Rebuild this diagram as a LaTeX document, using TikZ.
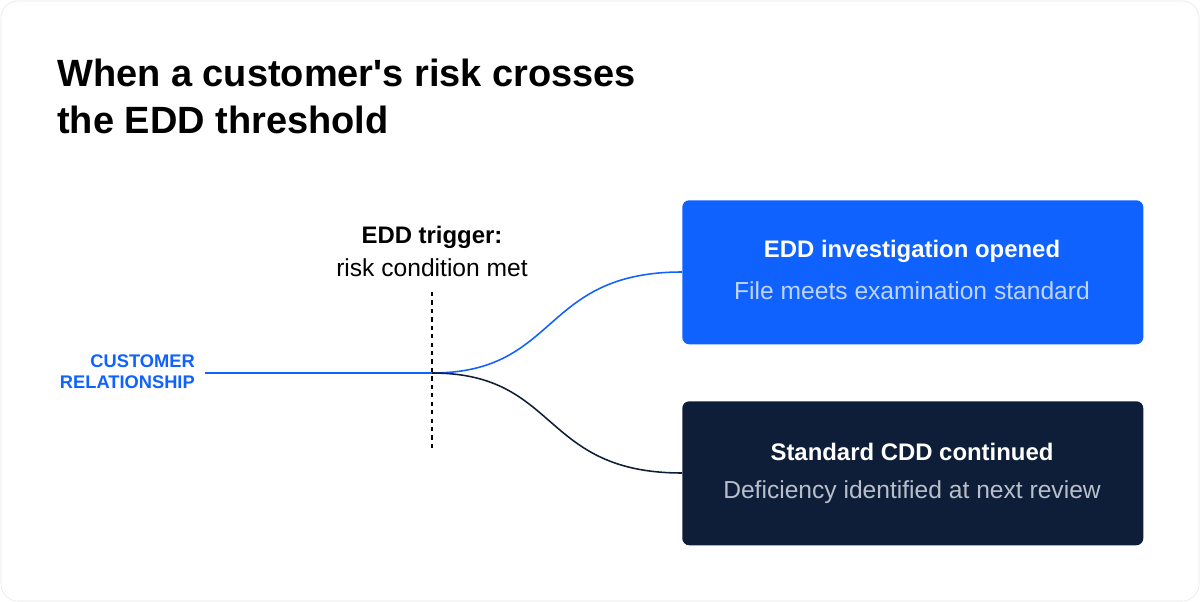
\documentclass[tikz,border=0pt]{standalone}
\usepackage{fontspec}
\setmainfont{Liberation Sans}
\usetikzlibrary{positioning}
\definecolor{eddblue}{HTML}{0F62FE}
\definecolor{eddnavy}{HTML}{0F1E38}
\definecolor{subblue}{HTML}{BFD4FF}
\definecolor{subgray}{HTML}{B8BFCC}
\definecolor{framegray}{HTML}{E6E6E6}
\tikzset{
  outcome/.style={rounded corners=5pt, minimum width=461*0.025cm, minimum height=144*0.025cm, inner sep=0pt},
  headtext/.style={font=\bfseries\fontsize{17}{20}\selectfont, text=white},
  subtext/.style={font=\fontsize{17.5}{21}\selectfont},
  path/.style={line width=1.1pt},
}
\begin{document}
\begin{tikzpicture}[x=0.025cm, y=-0.025cm]
  \useasboundingbox (0,0) rectangle (1200,602);
  % Card
  \draw[framegray, fill=white, rounded corners=12pt] (1,1) rectangle (1199,601);
  % Title
  \node[anchor=north west, align=left, inner sep=0pt,
        font=\bfseries\fontsize{27}{33}\selectfont] (title) at (57,59)
        {When a customer\textquotesingle s risk crosses\\the EDD threshold};
  % Trigger
  \coordinate (trigtop) at (432,292);
  \coordinate (trigbot) at (432,452);
  \draw[dashed, thick] (trigtop) -- (trigbot);
  \node[font=\bfseries\fontsize{17}{20}\selectfont] (trighead) at (432,237) {EDD trigger:};
  \node[font=\fontsize{17.5}{21}\selectfont] (trigsub) at (432,268) {risk condition met};
  % Customer relationship
  \node[anchor=east, align=right, inner sep=0pt, text=eddblue,
        font=\bfseries\fontsize{13}{15}\selectfont] (cust) at (195,372)
        {CUSTOMER\\RELATIONSHIP};
  \coordinate (split) at (432,373);
  % Outcomes
  \node[outcome, fill=eddblue, anchor=north west] (edd) at (682,200) {};
  \node[headtext] at (912,251) {EDD investigation opened};
  \node[subtext, text=subblue] at (912,291) {File meets examination standard};
  \node[outcome, fill=eddnavy, anchor=north west] (cdd) at (682,401) {};
  \node[headtext] at (912,452) {Standard CDD continued};
  \node[subtext, text=subgray] at (912,492) {Deficiency identified at next review};
  % Paths
  \draw[eddblue, path] (cust.east) ++(10,1) -- (split);
  \draw[eddblue, path] (split) .. controls (560,373) and (540,272) .. (edd.west |- 0,272);
  \draw[eddnavy, path] (split) .. controls (560,373) and (540,473) .. (cdd.west |- 0,473);
\end{tikzpicture}
\end{document}
